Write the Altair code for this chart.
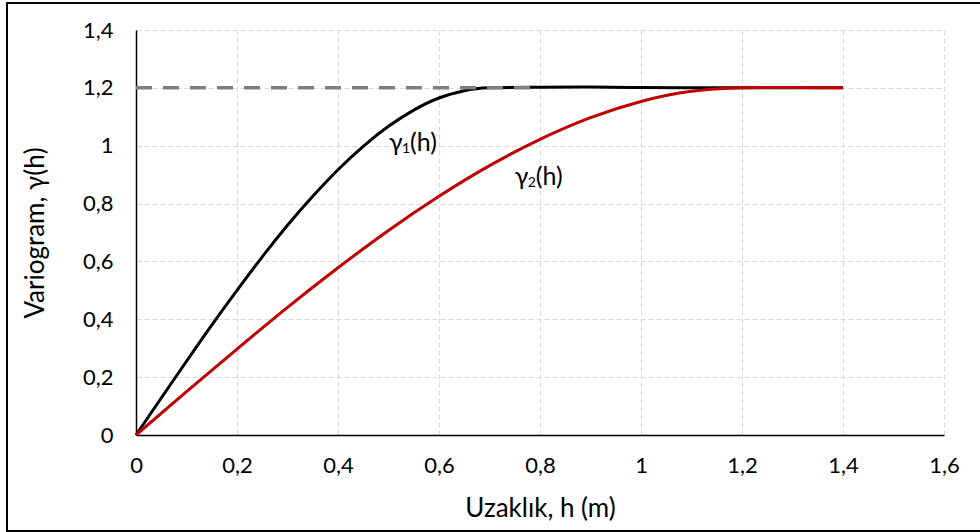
import altair as alt
import pandas as pd

# distances (m) and variogram values
h_black = [0, 0.05, 0.1, 0.15, 0.2, 0.25, 0.3, 0.35, 0.4, 0.45, 0.5, 0.55, 0.6, 0.65, 0.7,
           0.8, 0.9, 1.0, 1.1, 1.2, 1.3, 1.4]
g_black = [0, 0.128, 0.255, 0.38, 0.50, 0.616, 0.725, 0.825, 0.917, 0.998, 1.067, 1.123,
           1.165, 1.19, 1.2, 1.202, 1.203, 1.201, 1.2, 1.2, 1.2, 1.2]

h_red = [0, 0.1, 0.2, 0.3, 0.4, 0.5, 0.6, 0.7, 0.8, 0.9, 1.0, 1.1, 1.2, 1.3, 1.4]
g_red = [0, 0.15, 0.297, 0.441, 0.578, 0.707, 0.825, 0.931, 1.022, 1.097, 1.153, 1.188, 1.2, 1.201, 1.2]

sill_h = [0, 0.8]
sill_g = [1.2, 1.2]

label_h = [0.501, 0.750]
label_g = [1.008, 0.891]
label_sub = ["1", "2"]

x_ticks = [0, 0.2, 0.4, 0.6, 0.8, 1.0, 1.2, 1.4, 1.6]
y_ticks = [0, 0.2, 0.4, 0.6, 0.8, 1.0, 1.2, 1.4]

FONT = "Lato"
fmt = "replace(format(datum.value, '~g'), '.', ',')"

black_df = pd.DataFrame({"h": h_black, "g": g_black})
red_df = pd.DataFrame({"h": h_red, "g": g_red})
sill_df = pd.DataFrame({"h": sill_h, "g": sill_g})
lab_df = pd.DataFrame({"h": label_h, "g": label_g, "sub": label_sub})

xscale = alt.Scale(domain=[0, 1.6], nice=False, zero=False)
yscale = alt.Scale(domain=[0, 1.4], nice=False, zero=False)

x_axis = alt.Axis(values=x_ticks, labelExpr=fmt, title="Uzaklık, h (m)",
                  grid=True, gridColor="#d9d9d9", gridDash=[5, 3], gridWidth=1,
                  domainColor="#000000", domainWidth=1.5, ticks=False,
                  labelFont=FONT, labelFontSize=22, labelColor="#000000", labelPadding=20,
                  labelFlush=False, labelOverlap=False,
                  titleFont=FONT, titleFontSize=26, titleFontWeight="normal", titleColor="#000000",
                  titleX=404, titleY=73, titleBaseline="middle")
y_axis = alt.Axis(values=y_ticks, labelExpr=fmt, title="Variogram, γ(h)",
                  grid=True, gridColor="#d9d9d9", gridDash=[5, 3], gridWidth=1,
                  domainColor="#000000", domainWidth=1.5, ticks=False,
                  labelFont=FONT, labelFontSize=22, labelColor="#000000", labelPadding=23,
                  labelBaseline="middle", labelFlush=False, labelOverlap=False,
                  titleFont=FONT, titleFontSize=26, titleFontWeight="normal", titleColor="#000000",
                  titleX=-101, titleY=202.5, titleAngle=-90, titleAlign="center",
                  titleBaseline="middle")

black = alt.Chart(black_df).mark_line(color="#000000", strokeWidth=3, interpolate="natural").encode(
    x=alt.X("h:Q", scale=xscale, axis=x_axis),
    y=alt.Y("g:Q", scale=yscale, axis=y_axis),
)
red = alt.Chart(red_df).mark_line(color="#c00000", strokeWidth=3, interpolate="natural").encode(
    x=alt.X("h:Q", scale=xscale),
    y=alt.Y("g:Q", scale=yscale),
)
sill = alt.Chart(sill_df).mark_line(color="#808080", strokeWidth=3.5, strokeDash=[16, 11]).encode(
    x=alt.X("h:Q", scale=xscale),
    y=alt.Y("g:Q", scale=yscale),
)

gamma = alt.Chart(lab_df).mark_text(text="γ", font=FONT, fontSize=25, align="left",
                                    baseline="middle", color="#000000").encode(
    x=alt.X("h:Q", scale=xscale), y=alt.Y("g:Q", scale=yscale))
sub = alt.Chart(lab_df).mark_text(font=FONT, fontSize=14, align="left", baseline="middle",
                                  dx=13, dy=6, color="#000000").encode(
    x=alt.X("h:Q", scale=xscale), y=alt.Y("g:Q", scale=yscale), text="sub:N")
tail = alt.Chart(lab_df).mark_text(text="(h)", font=FONT, fontSize=25, align="left",
                                   baseline="middle", dx=21, color="#000000").encode(
    x=alt.X("h:Q", scale=xscale), y=alt.Y("g:Q", scale=yscale))

frame = alt.Chart(pd.DataFrame({"a": [0]})).mark_rect(
    fill=None, stroke="#000000", strokeWidth=2, fillOpacity=0).encode(
    x=alt.value(-129), x2=alt.value(850), y=alt.value(-27), y2=alt.value(501))

chart = alt.layer(black, red, sill, gamma, sub, tail, frame).properties(
    width=808, height=405,
    padding={"left": 136, "top": 30, "right": 36, "bottom": 97},
    autosize=alt.AutoSizeParams(type="none"),
    background="#ffffff",
).configure_view(stroke=None)

chart.save("out.html", embed_options={"renderer": "svg", "actions": False})
